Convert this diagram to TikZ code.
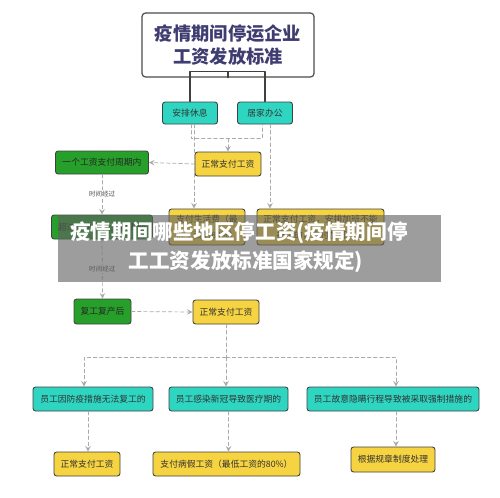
\documentclass[tikz,border=0pt]{standalone}
\usepackage{fontspec}
\newfontfamily\cjk{Noto Sans CJK SC}
\usetikzlibrary{calc}
\definecolor{tealc}{RGB}{46,214,194}
\definecolor{greenc}{RGB}{38,160,42}
\definecolor{yellowc}{RGB}{246,211,64}
\definecolor{titlec}{RGB}{62,60,112}
\definecolor{linkc}{RGB}{170,170,170}
\def\pxu{0.02cm}
\tikzset{
  box/.style={draw=black!75, line width=0.5pt, rounded corners=1.5pt, inner sep=0pt,
    minimum height=24*\pxu, text=black!80, font=\cjk\fontsize{5}{9}\selectfont, align=center},
  tealbox/.style={box, fill=tealc},
  greenbox/.style={box, fill=greenc, text=black!85},
  yellowbox/.style={box, fill=yellowc},
  link/.style={draw=linkc, dashed, dash pattern=on 2pt off 1.5pt, line width=0.4pt},
  passlabel/.style={fill=white, inner sep=0.6pt, text=black!70, font=\cjk\fontsize{3.7}{4}\selectfont}
}
\begin{document}
\begin{tikzpicture}[x=\pxu, y=-\pxu, >=stealth, line join=round, line cap=round]
  \useasboundingbox (0,0) rectangle (500,497);
  % top
  \node[draw=black!70, line width=0.7pt, rounded corners=2pt, fill=white, minimum width=172*\pxu,
    minimum height=64*\pxu, align=center, text=titlec, font=\cjk\bfseries\fontsize{10.4}{12.6}\selectfont]
    (title) at (228,45) {疫情期间停运企业\\工资发放标准};
  \node[tealbox, minimum width=55*\pxu, minimum height=22*\pxu] (rest) at (190,113) {安排休息};
  \node[tealbox, minimum width=55*\pxu, minimum height=22*\pxu] (home) at (265,113) {居家办公};
  \coordinate (tb) at ($(title.south)+(0,-6)$);
  \draw[black!75, line width=0.6pt] (title.south) -- (tb);
  \draw[black!75, line width=0.6pt] (rest.north) |- (tb) -| (home.north);
  % middle
  \node[yellowbox, minimum width=66*\pxu] (pay1) at (228,164) {正常支付工资};
  \node[greenbox, minimum width=93*\pxu, minimum height=23*\pxu] (cycle) at (102,162.5) {一个工资支付周期内};
  \node[greenbox, minimum width=101*\pxu] (over) at (102,227) {超过一个工资支付周期};
  \node[yellowbox, minimum width=76*\pxu, minimum height=36*\pxu] (living) at (207,227) {支付生活费（最\\低工资的80\%）};
  \node[yellowbox, minimum width=127*\pxu, minimum height=36*\pxu] (overtime) at (320.5,227) {正常支付工资，安排加班不能\\补休的，支付加班工资};
  \coordinate (j1) at ($(pay1.north)+(0,-13)$);
  \draw[link] ([xshift=1*\pxu]rest.south) |- (j1) -| ([xshift=-3*\pxu]home.south);
  \draw[link,->] (j1) -- (pay1.north);
  \draw[link,->] ([xshift=4*\pxu]rest.south) -- ([xshift=4*\pxu]rest.south |- living.north);
  \draw[link,->] ([xshift=5*\pxu]home.south) -- ([xshift=5*\pxu]home.south |- overtime.north);
  \draw[link,->] (pay1.west) -- (cycle.east);
  \draw[link,->] (cycle.south) -- node[passlabel]{时间经过} (over.north);
  % lower
  \node[greenbox, minimum width=57*\pxu, minimum height=25*\pxu] (resume) at (102.5,311.5) {复工复产后};
  \node[yellowbox, minimum width=66*\pxu] (pay2) at (226,312) {正常支付工资};
  \draw[link,->] (over.south) -- node[passlabel]{时间经过} (resume.north);
  \draw[link,->] (resume.east) -- (pay2.west);
  \node[tealbox, minimum width=120*\pxu] (case1) at (93,399) {员工因防疫措施无法复工的};
  \node[tealbox, minimum width=119*\pxu] (case2) at (228.5,399) {员工感染新冠导致医疗期的};
  \node[tealbox, minimum width=172*\pxu] (case3) at (393,399) {员工故意隐瞒行程导致被采取强制措施的};
  \coordinate (j2) at ($(pay2.south)+(0,33)$);
  \draw[link] (pay2.south) -- (j2);
  \draw[link,->] (j2) -| ([xshift=-9*\pxu]case1.north);
  \draw[link,->] (j2) -| ([xshift=3*\pxu]case3.north);
  \draw[link,->] (j2) -- (j2 |- case2.north);
  \node[yellowbox, minimum width=66*\pxu] (res1) at (87,464) {正常支付工资};
  \node[yellowbox, minimum width=147*\pxu] (res2) at (226.5,464) {支付病假工资（最低工资的80\%）};
  \node[yellowbox, minimum width=84*\pxu, minimum height=25*\pxu] (res3) at (393,459.5) {根据规章制度处理};
  \draw[link,->] ([xshift=-5*\pxu]case1.south) -- ([xshift=-5*\pxu]case1.south |- res1.north);
  \draw[link,->] (case2.south) -- (case2.south |- res2.north);
  \draw[link,->] ([xshift=3*\pxu]case3.south) -- ([xshift=3*\pxu]case3.south |- res3.north);
  % banner on top
  \fill[black!62, fill opacity=0.62] (58,215) rectangle (441,282);
  \node[text=white, inner sep=0pt, font=\cjk\bfseries\fontsize{11.7}{14}\selectfont] (head1) at (239,233) {疫情期间哪些地区停工资(疫情期间停};
  \node[text=white, inner sep=0pt, font=\cjk\bfseries\fontsize{11.7}{14}\selectfont] (head2) at (246,262) {工工资发放标准国家规定)};
\end{tikzpicture}
\end{document}
